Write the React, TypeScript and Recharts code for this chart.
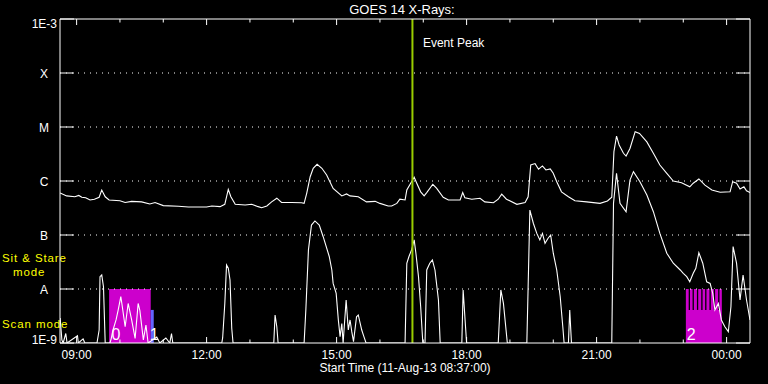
import React from 'react';
import { ComposedChart, Line, XAxis, YAxis, ReferenceLine, ReferenceArea } from 'recharts';

const FONT = '"Liberation Sans", Arial, sans-serif';
const START = 8 + 37 / 60;
const END = 24.54;
const HOUR_TICKS = [9, 10, 11, 12, 13, 14, 15, 16, 17, 18, 19, 20, 21, 22, 23, 24];
const MAJOR_TICKS = [9, 12, 15, 18, 21, 24];
const MAJOR_LABELS = ['09:00', '12:00', '15:00', '18:00', '21:00', '00:00'];
const LEVELS = [1e-9, 1e-8, 1e-7, 1e-6, 1e-5, 1e-4, 1e-3];
const LEVEL_LABELS = ['1E-9', 'A', 'B', 'C', 'M', 'X', '1E-3'];
const GRID_LEVELS = [1e-8, 1e-7, 1e-6, 1e-5, 1e-4];
const EVENT_PEAK = 16.75;
const SCAN_BOXES = [
  { x1: 9.75, x2: 10.71, label: '0' },
  { x1: 23.06, x2: 23.89, label: '2' },
];
const BOX_TOP = 1e-8;
const BOX_BOTTOM = 1e-9;
const BLUE_BAR = { x1: 10.71, x2: 10.78, top: 4.1e-9, label: '1' };
const STRIPES = [23.14, 23.23, 23.33, 23.43, 23.52, 23.62, 23.72, 23.82];
const STRIPE_BOTTOM = 4.1e-9;

// long channel (1-8 A): [hour, flux W/m^2]
const longChannel: [number, number][] = [
  [8.62, 6.0e-7], [8.77, 5.3e-7], [8.96, 5.1e-7], [9.05, 5.4e-7], [9.12, 5.0e-7], [9.21, 4.9e-7], [9.31, 4.45e-7], [9.41, 4.6e-7], [9.52, 5.0e-7], [9.58, 6.8e-7],
  [9.66, 5.1e-7], [9.75, 4.45e-7], [10.0, 4.3e-7], [10.12, 4.0e-7], [10.27, 4.2e-7], [10.5, 4.1e-7], [10.69, 3.75e-7], [10.81, 4.0e-7], [11.0, 3.5e-7], [11.35, 3.4e-7],
  [11.58, 3.3e-7], [12.0, 3.3e-7], [12.12, 3.45e-7], [12.31, 3.35e-7], [12.42, 3.7e-7], [12.5, 7.0e-7], [12.56, 5.1e-7], [12.66, 3.7e-7], [12.89, 3.6e-7], [13.04, 3.7e-7],
  [13.19, 3.35e-7], [13.27, 3.2e-7], [13.39, 3.45e-7], [13.5, 4.1e-7], [13.62, 4.8e-7], [13.73, 4.0e-7], [13.96, 4.0e-7], [14.19, 3.95e-7], [14.25, 3.85e-7], [14.31, 5.9e-7],
  [14.39, 1.2e-6], [14.46, 1.72e-6], [14.55, 2.04e-6], [14.66, 1.72e-6], [14.77, 1.29e-6], [14.92, 7.3e-7], [15.12, 5.3e-7], [15.23, 5.75e-7], [15.31, 5.3e-7], [15.5, 5.1e-7],
  [15.69, 4.1e-7], [15.89, 4.2e-7], [16.0, 3.85e-7], [16.19, 3.45e-7], [16.27, 3.45e-7], [16.39, 3.85e-7], [16.46, 4.6e-7], [16.58, 4.45e-7], [16.62, 6.8e-7], [16.73, 9.7e-7],
  [16.79, 1.17e-6], [16.85, 9.1e-7], [16.94, 6.3e-7], [17.02, 5.3e-7], [17.08, 6.1e-7], [17.22, 8.7e-7], [17.31, 7.3e-7], [17.46, 5.0e-7], [17.58, 4.45e-7], [17.85, 4.45e-7],
  [17.91, 6.1e-7], [17.96, 4.9e-7], [18.12, 4.6e-7], [18.31, 4.8e-7], [18.42, 4.1e-7], [18.62, 3.96e-7], [18.73, 4.6e-7], [18.81, 5.7e-7], [18.92, 4.6e-7], [19.16, 3.7e-7],
  [19.35, 4.0e-7], [19.42, 5.1e-7], [19.48, 1.98e-6], [19.58, 2.1e-6], [19.66, 1.65e-6], [19.75, 1.9e-6], [19.83, 1.6e-6], [19.93, 1.67e-6], [20.0, 1.39e-6], [20.08, 9.7e-7],
  [20.19, 6.3e-7], [20.35, 5.1e-7], [20.5, 4.3e-7], [20.77, 4.1e-7], [21.08, 3.85e-7], [21.25, 4.26e-7], [21.35, 5.0e-7], [21.4, 3.5e-6], [21.46, 6.8e-6], [21.52, 4.64e-6],
  [21.62, 3.26e-6], [21.68, 2.9e-6], [21.77, 4.0e-6], [21.89, 8.2e-6], [21.99, 7.6e-6], [22.16, 5.3e-6], [22.31, 3.26e-6], [22.46, 1.98e-6], [22.62, 1.39e-6], [22.77, 1.0e-6],
  [22.96, 9.3e-7], [23.15, 7.8e-7], [23.23, 9.1e-7], [23.36, 1.09e-6], [23.5, 8.4e-7], [23.66, 6.8e-7], [23.85, 6.2e-7], [24.08, 6.3e-7], [24.14, 9.7e-7], [24.23, 9.1e-7],
  [24.31, 7.1e-7], [24.4, 7.8e-7], [24.46, 6.6e-7], [24.54, 6.1e-7],
];

// short channel (0.5-4 A): [hour, flux W/m^2]
const shortChannel: [number, number][] = [
  [8.62, 2.9e-9], [8.66, 1.14e-9], [8.69, 1e-9], [8.75, 1.5e-9], [8.78, 1e-9], [9.02, 1.36e-9], [9.04, 1e-9], [9.15, 1.19e-9], [9.19, 1e-9], [9.47, 1e-9],
  [9.52, 1.74e-9], [9.54, 1.69e-8], [9.58, 1.82e-8], [9.62, 1.1e-8], [9.66, 1e-9], [9.77, 1e-9], [9.8, 1.22e-9], [9.84, 1.74e-9], [9.91, 2.67e-9], [9.96, 4.1e-9],
  [10.02, 7.2e-9], [10.05, 5.0e-9], [10.12, 2.0e-9], [10.19, 5.4e-9], [10.27, 2.67e-9], [10.35, 1.22e-9], [10.42, 5.4e-9], [10.46, 4.0e-9], [10.54, 1.14e-9], [10.6, 2.15e-9],
  [10.65, 1e-9], [10.85, 1.29e-9], [10.92, 1e-9], [11.06, 1.24e-9], [11.15, 1e-9], [11.19, 1.5e-9], [11.22, 1e-9], [12.35, 1e-9], [12.37, 1.24e-9], [12.42, 5.4e-9],
  [12.46, 2.78e-8], [12.5, 2.42e-8], [12.54, 1.47e-8], [12.58, 1.87e-9], [12.61, 1e-9], [13.55, 1e-9], [13.58, 3.3e-9], [13.62, 2.0e-9], [13.65, 1e-9], [14.25, 1e-9],
  [14.29, 4.1e-9], [14.35, 5.3e-8], [14.42, 1.53e-7], [14.5, 1.82e-7], [14.6, 1.53e-7], [14.69, 9.3e-8], [14.83, 4.0e-8], [14.89, 2.25e-8], [14.92, 1.27e-8], [14.99, 8.3e-9],
  [15.04, 2.67e-9], [15.08, 1.31e-9], [15.12, 2.3e-9], [15.15, 1e-9], [15.22, 6.25e-9], [15.27, 1.74e-9], [15.31, 2.67e-9], [15.35, 1.62e-9], [15.39, 1.06e-9], [15.46, 3.07e-9],
  [15.5, 3.3e-9], [15.58, 1.74e-9], [15.63, 1.31e-9], [15.68, 1e-9], [16.58, 1e-9], [16.62, 3.0e-8], [16.67, 4.0e-8], [16.73, 5.3e-8], [16.79, 8.1e-8], [16.83, 4.6e-8],
  [16.89, 1.69e-8], [16.94, 4.7e-9], [16.99, 1e-9], [17.04, 1e-9], [17.08, 2.25e-8], [17.15, 3.0e-8], [17.21, 3.45e-8], [17.27, 2.25e-8], [17.35, 6.25e-9], [17.39, 1e-9],
  [17.89, 1e-9], [17.92, 9.6e-9], [17.96, 3.07e-9], [18.0, 1e-9], [18.73, 1e-9], [18.79, 9.6e-9], [18.85, 5.4e-9], [18.94, 1e-9], [19.39, 1e-9], [19.42, 1.1e-8],
  [19.46, 2.9e-7], [19.54, 1.65e-7], [19.62, 1.07e-7], [19.69, 8.1e-8], [19.75, 1.07e-7], [19.81, 7.0e-8], [19.88, 8.7e-8], [19.94, 1.0e-7], [20.0, 4.6e-8], [20.08, 2.25e-8],
  [20.16, 7.2e-9], [20.22, 2.0e-9], [20.25, 1e-9], [20.35, 1e-9], [20.38, 4.1e-9], [20.42, 1e-9], [21.35, 1e-9], [21.39, 3.86e-7], [21.46, 1.39e-6], [21.54, 3.86e-7],
  [21.68, 2.7e-7], [21.77, 1.04e-6], [21.85, 1.49e-6], [22.0, 9.7e-7], [22.16, 5.5e-7], [22.31, 2.7e-7], [22.46, 1.07e-7], [22.62, 4.6e-8], [22.77, 3.0e-8], [22.93, 2.25e-8],
  [23.0, 1.95e-8], [23.08, 1.69e-8], [23.15, 1.36e-8], [23.23, 1.95e-8], [23.29, 2.42e-8], [23.36, 4.7e-8], [23.45, 3.0e-8], [23.54, 1.36e-8], [23.62, 1.27e-8], [23.68, 8.3e-9],
  [23.73, 4.1e-9], [23.81, 5.4e-9], [23.88, 2.67e-9], [23.96, 2.0e-9], [24.04, 1.62e-9], [24.1, 4.7e-9], [24.15, 6.1e-8], [24.23, 3.0e-8], [24.31, 6.25e-9], [24.38, 1.82e-8],
  [24.46, 6.25e-9], [24.54, 2.67e-9],
];

const longData = longChannel.map(([t, f]) => ({ t, f }));
const shortData = shortChannel.map(([t, f]) => ({ t, f }));

const levelLabel = (v: number) => LEVEL_LABELS[Math.round(Math.log10(v)) + 9];

function BottomTick(props: any) {
  const { x, y, payload } = props;
  const i = MAJOR_TICKS.indexOf(payload.value);
  const major = i >= 0;
  return (
    <g>
      <line x1={x} x2={x} y1={y} y2={y - (major ? 6 : 3.5)} stroke="#fff" />
      {major && (
        <text x={x} y={y + 16} textAnchor="middle" fill="#fff" fontSize={12} fontFamily={FONT}>
          {MAJOR_LABELS[i]}
        </text>
      )}
    </g>
  );
}

function TopTick(props: any) {
  const { x, y, payload } = props;
  const major = MAJOR_TICKS.indexOf(payload.value) >= 0;
  return <line x1={x} x2={x} y1={y} y2={y + (major ? 6 : 3.5)} stroke="#fff" />;
}

function LeftTick(props: any) {
  const { x, y, payload } = props;
  const label = levelLabel(payload.value);
  const isExp = label.startsWith('1E');
  let ty = y + 4.5;
  if (payload.value >= 1e-3) ty = y + 8.5;
  if (payload.value <= 1e-9) ty = y + 1;
  return (
    <g>
      <line x1={x} x2={x + 14} y1={y} y2={y} stroke="#fff" />
      <text x={isExp ? 57 : 44} y={ty} textAnchor={isExp ? 'end' : 'middle'} fill="#fff" fontSize={12} fontFamily={FONT}>
        {label}
      </text>
    </g>
  );
}

function RightTick(props: any) {
  const { x, y } = props;
  return <line x1={x} x2={x - 14} y1={y} y2={y} stroke="#fff" />;
}

function BoxLabel(props: any) {
  const vb = props.viewBox || {};
  return (
    <text x={vb.x + (props.dx0 ?? 2)} y={vb.y + vb.height - 3} fill="#fff" fontSize={16} fontFamily={FONT}>
      {props.text}
    </text>
  );
}

function PeakLabel(props: any) {
  const vb = props.viewBox || {};
  return (
    <text x={vb.x + 10.5} y={vb.y + 27.5} fill="#fff" fontSize={12} fontFamily={FONT}>
      Event Peak
    </text>
  );
}

function Texts() {
  return (
    <g fontFamily={FONT}>
      <text x={402} y={14} textAnchor="middle" fill="#fff" fontSize={13}>GOES 14 X-Rays:</text>
      <text x={405} y={372} textAnchor="middle" fill="#fff" fontSize={12}>Start Time (11-Aug-13 08:37:00)</text>
      <text x={2} y={262} fill="#ffff00" fontSize={11.5} letterSpacing={0.9}>Sit &amp; Stare</text>
      <text x={13} y={276} fill="#ffff00" fontSize={11.5} letterSpacing={0.9}>mode</text>
      <text x={2} y={327.5} fill="#ffff00" fontSize={11.5} letterSpacing={0.9}>Scan mode</text>
    </g>
  );
}

export default function App() {
  return (
    <div style={{ position: 'absolute', left: 0, top: 0, width: 768, height: 384, background: '#000' }}>
      <ComposedChart width={768} height={384} margin={{ top: 0, right: 0, bottom: 0, left: 0 }}>
        <XAxis
          xAxisId="b" dataKey="t" type="number" domain={[START, END]} allowDataOverflow
          ticks={HOUR_TICKS} interval={0} orientation="bottom" height={41}
          tickSize={0} tickMargin={0} tickLine={false} tick={<BottomTick />}
          axisLine={{ stroke: '#fff' }}
        />
        <XAxis
          xAxisId="t" dataKey="t" type="number" domain={[START, END]} allowDataOverflow
          ticks={HOUR_TICKS} interval={0} orientation="top" height={19}
          tickSize={0} tickMargin={0} tickLine={false} tick={<TopTick />}
          axisLine={{ stroke: '#fff' }}
        />
        <YAxis
          yAxisId="l" type="number" scale="log" domain={[1e-9, 1e-3]} allowDataOverflow
          ticks={LEVELS} interval={0} width={60}
          tickSize={0} tickMargin={0} tickLine={false} tick={<LeftTick />}
          axisLine={{ stroke: '#fff' }}
        />
        <YAxis
          yAxisId="r" orientation="right" type="number" scale="log" domain={[1e-9, 1e-3]} allowDataOverflow
          ticks={LEVELS} interval={0} width={18}
          tickSize={0} tickMargin={0} tickLine={false} tick={<RightTick />}
          axisLine={{ stroke: '#fff' }}
        />
        {GRID_LEVELS.map((v) => (
          <ReferenceLine key={'g' + v} xAxisId="b" yAxisId="l" y={v} stroke="#fff" strokeDasharray="1 5" />
        ))}
        {SCAN_BOXES.map((b) => (
          <ReferenceArea
            key={'box' + b.label} xAxisId="b" yAxisId="l" x1={b.x1} x2={b.x2} y1={BOX_BOTTOM} y2={BOX_TOP}
            fill="#cc00cc" fillOpacity={1} stroke="none"
            label={<BoxLabel text={b.label} dx0={b.label === '0' ? 2.5 : 1} />}
          />
        ))}
        <ReferenceArea
          xAxisId="b" yAxisId="l" x1={BLUE_BAR.x1} x2={BLUE_BAR.x2} y1={BOX_BOTTOM} y2={BLUE_BAR.top}
          fill="#6464ff" fillOpacity={1} stroke="none"
          label={<BoxLabel text={BLUE_BAR.label} dx0={-1} />}
        />
        {STRIPES.map((s) => (
          <ReferenceLine
            key={'s' + s} xAxisId="b" yAxisId="l"
            segment={[{ x: s, y: STRIPE_BOTTOM }, { x: s, y: BOX_TOP }]}
            stroke="#000" strokeWidth={1.3}
          />
        ))}
        <Line
          xAxisId="b" yAxisId="l" data={shortData} dataKey="f" type="linear"
          stroke="#fff" strokeWidth={1.1} dot={false} isAnimationActive={false}
        />
        <Line
          xAxisId="b" yAxisId="l" data={longData} dataKey="f" type="linear"
          stroke="#fff" strokeWidth={1.1} dot={false} isAnimationActive={false}
        />
        <ReferenceLine
          xAxisId="b" yAxisId="l" x={EVENT_PEAK} stroke="#99cc00" strokeWidth={2}
          label={<PeakLabel />}
        />
        <Texts />
      </ComposedChart>
    </div>
  );
}
